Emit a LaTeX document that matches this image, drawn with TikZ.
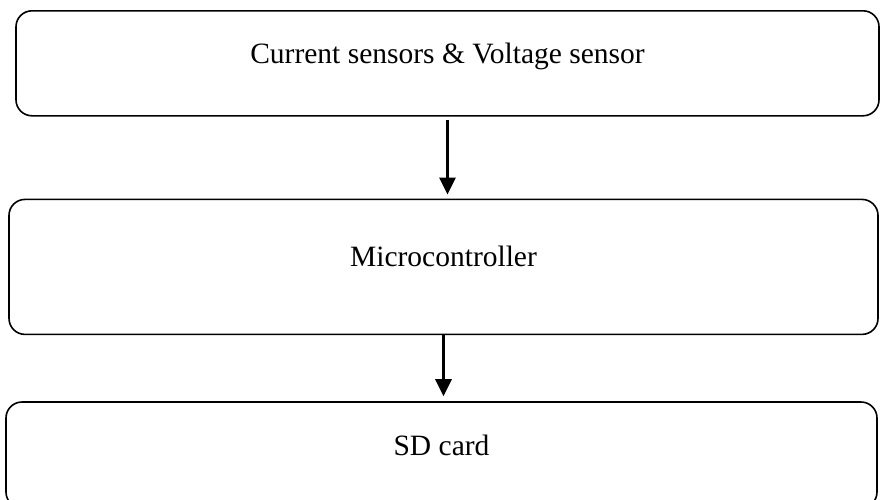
\documentclass[tikz,border=0pt]{standalone}
\usepackage{fontspec}
\setmainfont{Liberation Serif}
\usepackage{tikz}
\usetikzlibrary{arrows.meta,positioning}
\tikzset{
  blockbox/.style={draw=black,rounded corners=16pt,line width=1.6pt,align=center,minimum width=862pt,
    text height=20pt,text depth=20pt,inner sep=0pt,font=\fontsize{29.5}{34}\selectfont,fill=white},
  blockarrow/.style={-{Triangle[length=17pt,width=16pt]},line width=3pt,draw=black,shorten <=3pt,shorten >=4pt}
}

\begin{document}
\begin{tikzpicture}[x=1pt,y=-1pt,node distance=82pt]
\useasboundingbox (0,0) rectangle (880,499);
\node[blockbox,minimum height=105pt,minimum width=863pt,anchor=north] (sensors) at (447.5,10) {Current sensors \& Voltage sensor};
\node[blockbox,below=of sensors,xshift=-4pt,minimum height=135pt,minimum width=869pt] (mcu) {Microcontroller};
\node[blockbox,below=66pt of mcu,xshift=-2pt,minimum height=106pt,minimum width=871pt] (sdcard) {SD card};
\draw[blockarrow] (sensors.south) -- (sensors.south |- mcu.north);
\draw[blockarrow,shorten <=0pt,shorten >=5pt] (mcu.south) -- (mcu.south |- sdcard.north);
\end{tikzpicture}
\end{document}
